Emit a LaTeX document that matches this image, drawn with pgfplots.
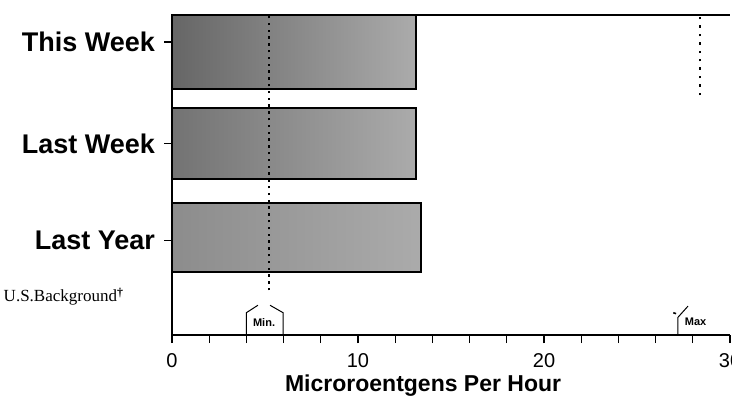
\documentclass[border=0pt]{standalone}
\usepackage{pgfplots}
\pgfplotsset{compat=1.18}
\usepackage{fontspec}
\setmainfont{Liberation Sans}
\newfontfamily\seriffont{Liberation Serif}
\begin{document}
\begin{tikzpicture}
\begin{axis}[
  anchor=origin, at={(0,0)},
  x=9.3pt, y=46.5pt,
  xmin=0, xmax=30, ymin=0, ymax=3.44,
  axis x line*=bottom, axis y line*=left,
  axis line style={line width=0.8pt},
  xtick={0,10,20,30}, minor xtick={2,4,...,28},
  tick align=outside, major tick length=4pt, minor tick length=4pt,
  tick style={black, line width=0.6pt},
  ytick={1.02,2.06,3.15}, yticklabels={Last Year, Last Week, This Week},
  yticklabel style={font=\fontsize{13.5}{15}\selectfont\bfseries, xshift=-1pt},
  xticklabel style={font=\fontsize{10}{12}\selectfont, yshift=-1.5pt},
  /pgf/number format/assume math mode=true,
  xlabel={Microroentgens Per Hour},
  xlabel style={at={(axis description cs:0.45,0)}, anchor=center, yshift=-25.5pt,
    font=\fontsize{11.5}{13}\selectfont\bfseries},
  clip=false,
]
\addplot[xbar, bar shift=0pt, bar width=37pt, draw=black, line width=1.1pt,
  left color=black!60, right color=black!33] coordinates {(13.1,3.04)};
\addplot[xbar, bar shift=0pt, bar width=35.5pt, draw=black, line width=1.1pt,
  left color=black!55, right color=black!33] coordinates {(13.1,2.06)};
\addplot[xbar, bar shift=0pt, bar width=34.5pt, draw=black, line width=1.1pt,
  left color=black!45, right color=black!33] coordinates {(13.4,1.05)};
% min / max dotted lines
\addplot[black, line width=1.2pt, dash pattern=on 1.2pt off 2.2pt] coordinates {(5.2,0.48) (5.2,3.44)};
\addplot[black, line width=0.8pt, dash pattern=on 1.2pt off 3pt] coordinates {(28.4,2.58) (28.4,3.44)};
% background range markers
\addplot[black, line width=0.5pt] coordinates {(4,0) (4,0.24) (4.62,0.32)};
\addplot[black, line width=0.5pt] coordinates {(5.97,0) (5.97,0.24) (5.27,0.32)};
\addplot[black, line width=0.5pt] coordinates {(27.2,0) (27.2,0.19) (27.74,0.31)};
\addplot[black, line width=0.8pt] coordinates {(26.95,0.24) (27.1,0.23)};
\node[font=\fontsize{5.5}{6}\selectfont\bfseries] at (axis cs:4.95,0.13) {Min.};
\node[font=\fontsize{5.5}{6}\selectfont\bfseries] at (axis cs:28.15,0.14) {Max};
\draw[line width=0.8pt] (axis cs:0,3.44) -- (axis cs:30,3.44);
\node[anchor=east, font=\seriffont\fontsize{8.5}{10}\selectfont] at (axis cs:-2.2,0.41) {U.S.Background\textsuperscript{\textbf{\dag}}};
\end{axis}
\pgfresetboundingbox
\useasboundingbox (-86pt,-33.5pt) rectangle (280pt,167.5pt);
\end{tikzpicture}
\end{document}
